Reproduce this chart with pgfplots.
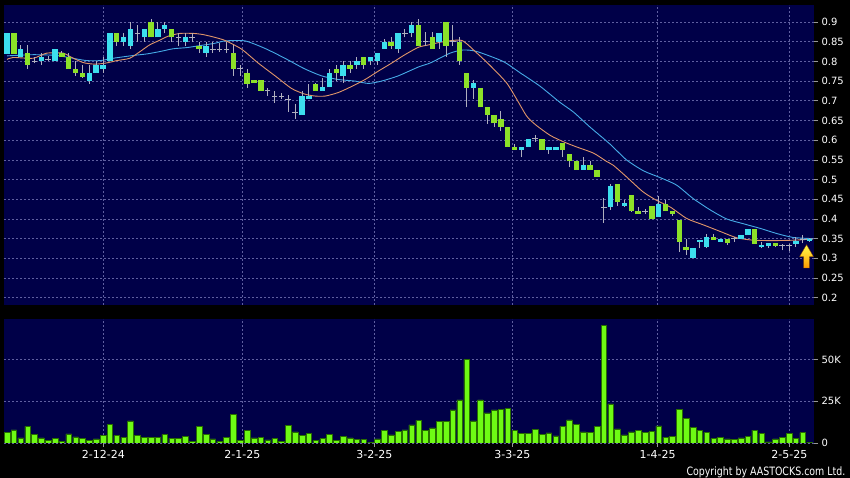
\documentclass[border=0pt]{standalone}
\usepackage{fontspec}
\setmainfont{DejaVu Sans}
\newfontfamily\condfont{DejaVu Sans}[FakeStretch=0.82]
\usepackage{pgfplots}
\usepackage{pgfplotstable}
\pgfplotsset{compat=1.18}

\definecolor{bgnavy}{RGB}{0,0,72}
\definecolor{gridc}{RGB}{95,95,160}
\definecolor{upc}{RGB}{60,222,238}
\definecolor{downc}{RGB}{140,225,40}
\definecolor{wickc}{RGB}{175,175,190}
\definecolor{volc}{RGB}{110,250,20}
\definecolor{voledge}{RGB}{40,110,0}
\definecolor{maten}{RGB}{225,150,105}
\definecolor{matwenty}{RGB}{70,170,230}
\definecolor{tickc}{RGB}{150,150,150}

\pgfplotsset{
  panel/.style={
    scale only axis, width=810pt, anchor=south west,
    xmin=-0.44, xmax=117.64,
    axis background/.style={fill=bgnavy},
    axis line style={draw=none},
    grid=major,
    major grid style={draw=gridc, line width=0.6pt, dash pattern=on 2pt off 2pt},
    ytick pos=right, yticklabel pos=right,
    tick align=outside, major tick length=4pt,
    tick style={draw=tickc, line width=0.6pt},
    yticklabel style={font=\fontsize{10}{12}\selectfont, text=white},
    xticklabel style={font=\fontsize{11}{13}\selectfont, text=white},
  },
  % plot that draws only its error bars
  bars only/.style={only marks, mark size=0pt, mark options={draw=none, fill=none}},
}

% candles: index, open, high, low, close, type (1 up, -1 down, 0 doji)
\pgfplotstableread{
i o h l c t
0 0.819 0.871 0.819 0.871 1
1 0.871 0.871 0.819 0.819 -1
2 0.812 0.842 0.812 0.831 1
3 0.821 0.842 0.781 0.792 -1
4 0.800 0.810 0.795 0.800 0
5 0.800 0.821 0.792 0.811 1
6 0.805 0.814 0.800 0.805 0
7 0.800 0.831 0.800 0.831 1
8 0.821 0.827 0.811 0.811 -1
9 0.811 0.821 0.781 0.781 -1
10 0.781 0.800 0.763 0.771 -1
11 0.771 0.792 0.758 0.760 -1
12 0.750 0.792 0.742 0.771 1
13 0.771 0.800 0.771 0.792 1
14 0.781 0.811 0.771 0.792 1
15 0.800 0.871 0.800 0.871 1
16 0.871 0.871 0.840 0.850 -1
17 0.850 0.871 0.840 0.861 1
18 0.840 0.900 0.831 0.882 1
19 0.871 0.892 0.850 0.871 0
20 0.861 0.882 0.850 0.882 1
21 0.900 0.908 0.861 0.861 -1
22 0.861 0.900 0.861 0.882 1
23 0.882 0.900 0.871 0.892 1
24 0.882 0.882 0.850 0.861 -1
25 0.861 0.871 0.839 0.861 0
26 0.850 0.871 0.839 0.861 1
27 0.861 0.871 0.850 0.861 0
28 0.839 0.850 0.821 0.831 -1
29 0.821 0.850 0.811 0.839 1
30 0.831 0.850 0.821 0.831 0
31 0.831 0.846 0.825 0.831 0
32 0.831 0.850 0.821 0.831 0
33 0.821 0.842 0.763 0.781 -1
34 0.781 0.792 0.763 0.781 0
35 0.771 0.781 0.733 0.742 -1
36 0.752 0.752 0.745 0.745 -1
37 0.752 0.752 0.725 0.725 -1
38 0.725 0.733 0.712 0.725 0
39 0.712 0.725 0.694 0.712 0
40 0.712 0.721 0.704 0.712 0
41 0.702 0.714 0.671 0.702 0
42 0.671 0.692 0.654 0.671 0
43 0.664 0.725 0.664 0.712 1
44 0.704 0.742 0.704 0.712 1
45 0.742 0.746 0.725 0.725 -1
46 0.725 0.759 0.725 0.734 1
47 0.734 0.781 0.734 0.771 1
48 0.781 0.792 0.750 0.771 -1
49 0.762 0.800 0.746 0.792 1
50 0.792 0.800 0.771 0.781 -1
51 0.792 0.811 0.781 0.800 1
52 0.811 0.811 0.781 0.792 -1
53 0.800 0.811 0.792 0.811 1
54 0.800 0.821 0.792 0.821 1
55 0.831 0.858 0.831 0.850 1
56 0.850 0.861 0.831 0.839 -1
57 0.831 0.871 0.821 0.871 1
58 0.871 0.882 0.861 0.871 0
59 0.871 0.900 0.861 0.892 1
60 0.892 0.908 0.840 0.840 -1
61 0.850 0.875 0.839 0.850 0
62 0.861 0.875 0.831 0.831 -1
63 0.850 0.871 0.831 0.871 1
64 0.900 0.900 0.812 0.840 -1
65 0.850 0.892 0.839 0.850 0
66 0.850 0.861 0.792 0.800 -1
67 0.771 0.771 0.683 0.733 -1
68 0.733 0.752 0.704 0.744 1
69 0.733 0.733 0.683 0.683 -1
70 0.683 0.683 0.642 0.664 -1
71 0.664 0.664 0.633 0.643 -1
72 0.654 0.673 0.623 0.633 -1
73 0.633 0.633 0.583 0.583 -1
74 0.583 0.590 0.575 0.575 -1
75 0.575 0.583 0.556 0.583 1
76 0.583 0.604 0.583 0.604 1
77 0.604 0.612 0.596 0.604 0
78 0.604 0.604 0.575 0.575 -1
79 0.575 0.583 0.565 0.583 1
80 0.575 0.583 0.575 0.583 1
81 0.594 0.594 0.556 0.575 -1
82 0.565 0.565 0.531 0.546 -1
83 0.546 0.546 0.525 0.525 -1
84 0.525 0.556 0.525 0.536 1
85 0.536 0.546 0.525 0.525 -1
86 0.525 0.525 0.506 0.506 -1
87 0.430 0.454 0.390 0.430 0
88 0.430 0.489 0.423 0.483 1
89 0.489 0.489 0.434 0.443 -1
90 0.434 0.447 0.430 0.440 1
91 0.460 0.460 0.417 0.419 -1
92 0.419 0.430 0.412 0.412 -1
93 0.419 0.425 0.412 0.419 0
94 0.434 0.434 0.401 0.401 -1
95 0.405 0.458 0.405 0.439 1
96 0.439 0.447 0.419 0.419 -1
97 0.419 0.419 0.408 0.413 -1
98 0.397 0.397 0.316 0.342 -1
99 0.330 0.350 0.308 0.320 -1
100 0.300 0.325 0.300 0.325 1
101 0.342 0.346 0.325 0.346 1
102 0.329 0.363 0.325 0.354 1
103 0.354 0.363 0.346 0.346 -1
104 0.342 0.350 0.342 0.350 1
105 0.350 0.350 0.335 0.339 -1
106 0.350 0.355 0.342 0.350 0
107 0.350 0.360 0.350 0.360 1
108 0.360 0.375 0.360 0.375 1
109 0.375 0.375 0.336 0.336 -1
110 0.329 0.342 0.325 0.334 1
111 0.331 0.339 0.325 0.339 1
112 0.339 0.339 0.328 0.331 -1
113 0.333 0.337 0.320 0.333 0
114 0.333 0.337 0.318 0.333 0
115 0.336 0.355 0.330 0.343 1
116 0.348 0.360 0.338 0.348 0
117 0.344 0.352 0.342 0.350 1
}\candles

% moving averages
\pgfplotstableread{
i p
0 0.805
0.9 0.810
3.8 0.808
5.8 0.821
8.2 0.821
9.2 0.812
11.1 0.797
12.8 0.793
14.5 0.796
16.0 0.802
17.9 0.808
19.4 0.825
20.8 0.842
22.3 0.854
23.5 0.864
25.2 0.871
27.2 0.871
28.6 0.868
30.3 0.861
31.8 0.853
34.2 0.831
36.6 0.796
39.1 0.763
41.5 0.731
43.4 0.717
44.9 0.712
46.4 0.712
48.3 0.721
50.2 0.736
52.2 0.754
54.1 0.775
56.1 0.796
58.0 0.817
60.0 0.836
61.5 0.842
63.6 0.850
66.3 0.853
68.5 0.821
70.4 0.790
72.8 0.746
74.3 0.704
75.8 0.660
77.2 0.637
79.2 0.612
81.1 0.596
83.0 0.583
85.5 0.567
87.4 0.546
88.4 0.536
90.3 0.507
92.7 0.469
94.7 0.447
96.7 0.430
99.1 0.401
101.5 0.385
104.0 0.368
106.4 0.352
108.8 0.346
111.7 0.345
114.6 0.346
117.5 0.349
}\maten

\pgfplotstableread{
i p
0 0.814
3.8 0.817
7.2 0.815
10.2 0.806
11.6 0.802
13.6 0.802
15.5 0.808
18.4 0.815
20.4 0.819
22.3 0.825
24.2 0.832
26.2 0.835
28.1 0.840
30.3 0.846
31.8 0.852
34.7 0.852
37.6 0.833
40.5 0.808
43.4 0.781
45.9 0.763
48.3 0.754
50.7 0.750
52.7 0.744
54.6 0.750
57.0 0.763
60.0 0.786
61.7 0.796
64.6 0.821
66.5 0.829
68.5 0.825
72.3 0.800
74.8 0.771
77.7 0.737
80.6 0.696
82.6 0.671
85.0 0.633
87.9 0.590
90.3 0.550
92.8 0.522
95.2 0.505
97.6 0.486
100.0 0.452
102.5 0.423
104.9 0.400
107.3 0.388
109.8 0.376
112.2 0.363
114.6 0.353
117.5 0.350
}\matwenty

% daily volume, thousands
\pgfplotstableread{
i v
0 6.5
1 7.9
2 3.0
3 10.0
4 5.0
5 3.0
6 1.6
7 2.8
8 1.0
9 5.4
10 3.6
11 2.6
12 1.4
13 2.4
14 4.4
15 11.0
16 4.4
17 3.2
18 13.3
19 4.6
20 3.4
21 3.4
22 3.4
23 5.0
24 2.8
25 2.8
26 3.8
27 0.8
28 10.0
29 5.2
30 2.4
31 0.8
32 3.2
33 17.3
34 1.4
35 7.5
36 3.0
37 3.2
38 1.8
39 2.6
40 0.8
41 10.7
42 6.7
43 4.4
44 5.6
45 1.4
46 2.6
47 5.2
48 1.6
49 3.8
50 3.0
51 2.0
52 2.2
53 0.4
54 2.4
55 7.7
56 4.8
57 7.1
58 7.9
59 10.9
60 13.5
61 7.7
62 9.0
63 13.0
64 13.0
65 19.8
66 25.8
67 50.2
68 13.3
69 25.8
70 18.0
71 19.8
72 20.0
73 20.6
74 7.5
75 5.8
76 5.6
77 8.3
78 5.2
79 6.0
80 4.2
81 9.9
82 13.9
83 11.3
84 6.7
85 6.2
86 9.9
87 70.4
88 23.4
89 8.5
90 4.8
91 6.7
92 7.5
93 6.5
94 7.1
95 10.3
96 3.4
97 4.0
98 20.0
99 14.9
100 9.3
101 7.5
102 6.2
103 2.6
104 3.4
105 2.4
106 2.2
107 3.0
108 4.0
109 7.7
110 5.6
111 0.6
112 2.4
113 3.2
114 5.6
115 2.6
116 6.2
117 0.4
}\vols

\begin{document}
\begin{tikzpicture}
\useasboundingbox (0,0) rectangle (850pt,478pt);
\fill[black] (0,0) rectangle (850pt,478pt);

% price panel
\begin{axis}[panel, at={(4pt,173pt)}, height=300pt,
  ymin=0.1815, ymax=0.9432,
  ytick={0.2,0.25,0.3,0.35,0.4,0.45,0.5,0.55,0.6,0.65,0.7,0.75,0.8,0.85,0.9},
  yticklabels={0.2,0.25,0.3,0.35,0.4,0.45,0.5,0.55,0.6,0.65,0.7,0.75,0.8,0.85,0.9},
  xtick={14.04,34.30,53.54,73.66,94.85,114.04},
  xticklabels={}, xmajorticks=false,
]
\addplot[matwenty, line width=0.9pt, smooth, tension=0.4] table[x=i,y=p] {\matwenty};
\addplot[maten, line width=0.9pt, smooth, tension=0.4] table[x=i,y=p] {\maten};
% wicks
\addplot[bars only, error bars/.cd, y dir=plus, y explicit,
  error mark=none, error bar style={draw=wickc, line width=0.9pt}]
  table[x=i, y=l, y error plus expr=\thisrow{h}-\thisrow{l}] {\candles};
% bodies
\addplot[bars only, restrict expr to domain={\thisrow{t}}{0.5:1.5},
  error bars/.cd, y dir=plus, y explicit,
  error mark=none, error bar style={draw=upc, line width=5.4pt}]
  table[x=i, y=o, y error plus expr=\thisrow{c}-\thisrow{o}] {\candles};
\addplot[bars only, restrict expr to domain={\thisrow{t}}{-1.5:-0.5},
  error bars/.cd, y dir=plus, y explicit,
  error mark=none, error bar style={draw=downc, line width=5.4pt}]
  table[x=i, y=c, y error plus expr=\thisrow{o}-\thisrow{c}] {\candles};
\addplot[only marks, restrict expr to domain={\thisrow{t}}{-0.5:0.5},
  mark=-, mark size=2.8pt, mark options={draw=wickc, line width=1pt}]
  table[x=i, y=c] {\candles};
% marker arrow at the last bar
\fill[top color=yellow!70!white, bottom color=orange!80!yellow, draw=orange!60!black, line width=0.3pt]
  (axis cs:116.55,0.3345) -- (axis cs:117.55,0.3045) -- (axis cs:116.98,0.3045)
  -- (axis cs:116.98,0.2755) -- (axis cs:116.12,0.2755) -- (axis cs:116.12,0.3045)
  -- (axis cs:115.55,0.3045) -- cycle;
\end{axis}

% volume panel
\begin{axis}[panel, at={(4pt,35pt)}, height=124pt,
  ymin=0, ymax=74.4,
  ytick={0,25,50}, yticklabels={0,25K,50K},
  xtick={14.04,34.30,53.54,73.66,94.85,114.04},
  xticklabels={2-12-24,2-1-25,3-2-25,3-3-25,1-4-25,2-5-25},
  xtick pos=bottom,
]
\addplot[ybar, bar width=5.6pt, fill=volc, draw=voledge, line width=0.5pt]
  table[x=i, y=v] {\vols};
\end{axis}

\node[anchor=base east, text=white, inner sep=0pt,
  font=\condfont\fontsize{11.5}{13}\selectfont] at (845.5pt,2.5pt)
  {Copyright by AASTOCKS.com Ltd.};
\end{tikzpicture}
\end{document}
